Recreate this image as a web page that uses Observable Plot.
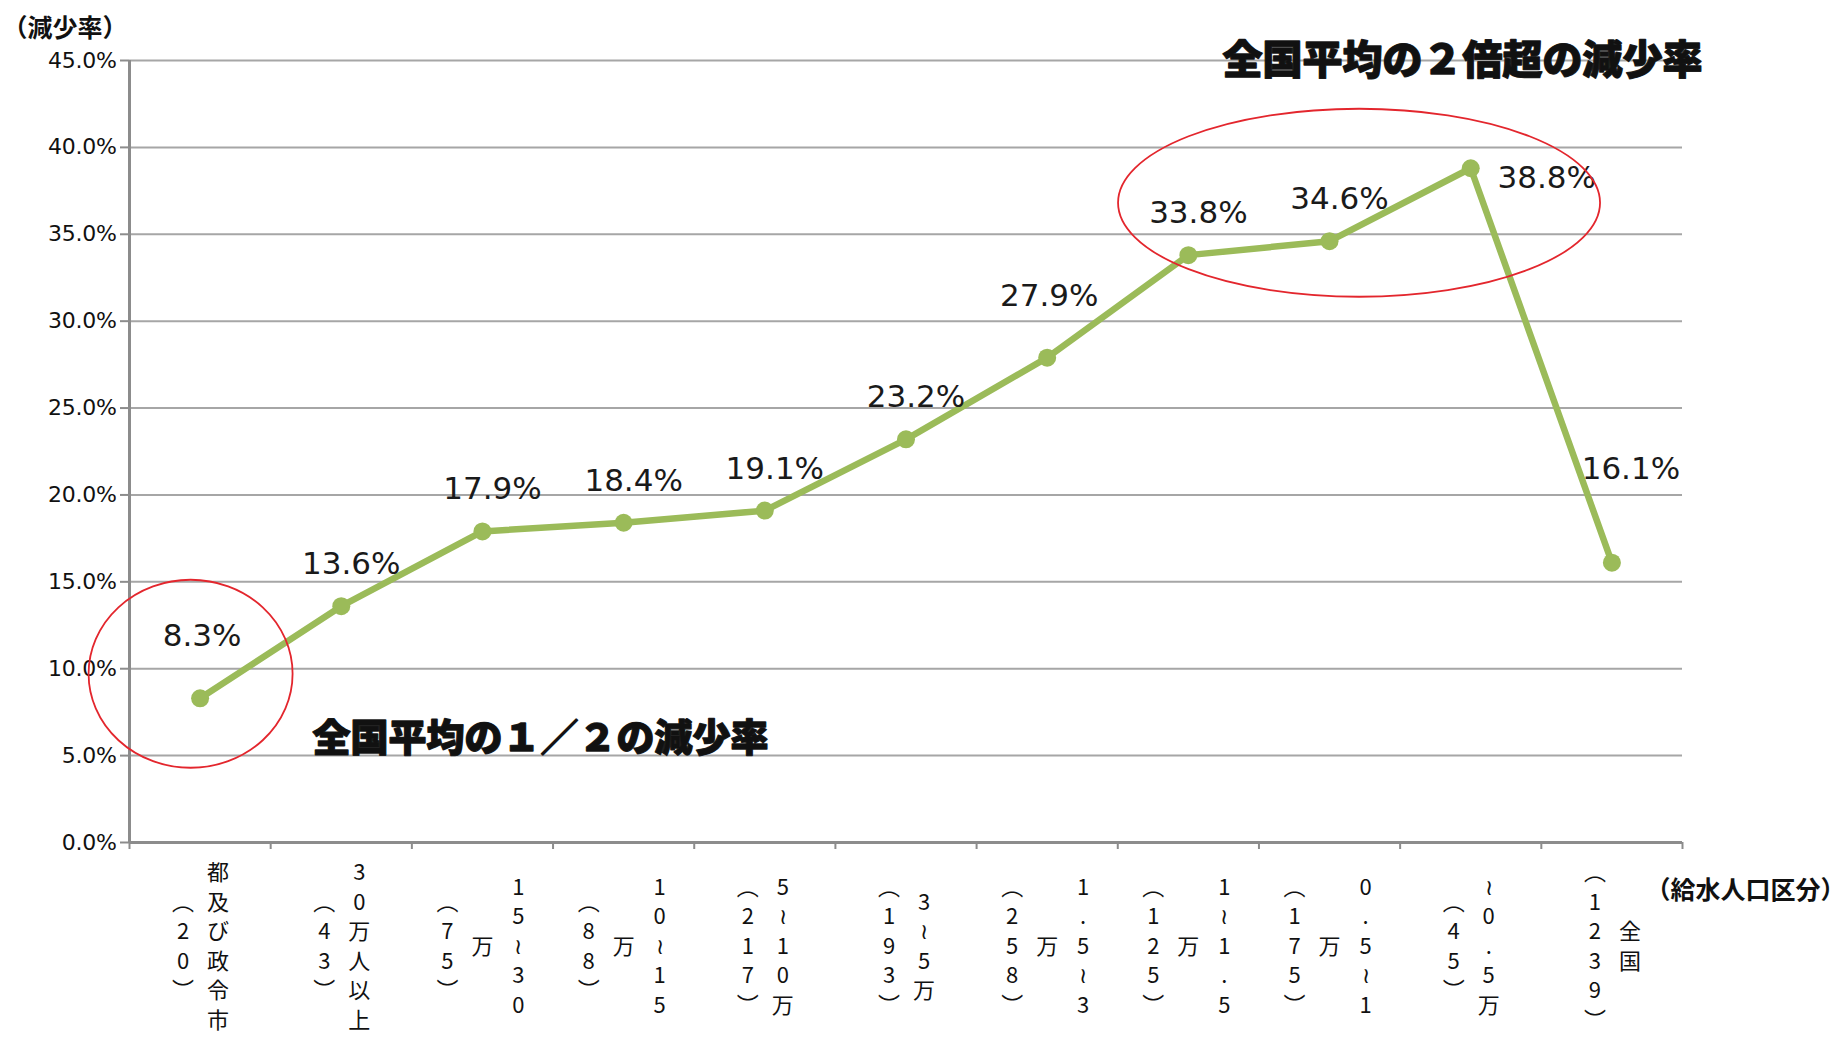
<!DOCTYPE html>
<html>
<head>
<meta charset="utf-8">
<script src="https://cdn.jsdelivr.net/npm/d3@7"></script>
<script src="https://cdn.jsdelivr.net/npm/@observablehq/plot@0.6"></script>
<style>
  html, body { margin: 0; padding: 0; background: #fff; }
  g[aria-label="value-label"] text { letter-spacing: -0.6px; }
  g[aria-label="y-axis tick label"] text { letter-spacing: -0.3px; }
</style>
</head>
<body>
<div id="chart"></div>
<script>
// ---- data ----
const categories = [
  "都及び政令市（20）", "30万人以上（43）", "15～30万（75）", "10～15万（88）",
  "5～10万（217）", "3～5万（193）", "1.5～3万（258）", "1～1.5万（125）",
  "0.5～1万（175）", "～0.5万（45）", "全国（1239）"
];
// tick label columns, left to right (vertical writing)
const categoryColumns = [
  ["︵20︶", "都及び政令市"],
  ["︵43︶", "30万人以上"],
  ["︵75︶", "万", "15≀30"],
  ["︵88︶", "万", "10≀15"],
  ["︵217︶", "5≀10万"],
  ["︵193︶", "3≀5万"],
  ["︵258︶", "万", "1.5≀3"],
  ["︵125︶", "万", "1≀1.5"],
  ["︵175︶", "万", "0.5≀1"],
  ["︵45︶", "≀0.5万"],
  ["︵1239︶", "全国"]
];
const values = [8.3, 13.6, 17.9, 18.4, 19.1, 23.2, 27.9, 33.8, 34.6, 38.8, 16.1];
const yTicks = [0, 5, 10, 15, 20, 25, 30, 35, 40, 45];
const yTitle = "（減少率）";
const xTitle = "（給水人口区分）";
const noteLow = "全国平均の１／２の減少率";
const noteHigh = "全国平均の２倍超の減少率";

// ---- layout / style (not data) ----
const GREEN = "#9bbb59";
const GRID = "#a6a6a6";
const AXIS = "#8c8c8c";
const labelGroups = {
  raised: {idx: [0, 6], dx: 2, dy: -62},
  right: {idx: [9], dx: 76, dy: 10},
  high: {idx: [10], dx: 19, dy: -94},
  normal: {dx: 10, dy: -42}
};
const colOffsets = {2: [-17, 18], 3: [-35, 0, 36]};
const ellipses = [
  {i: 0, dx: -9, dy: -24, rx: 102, ry: 94},
  {i: 8, dx: 30, dy: -38, rx: 241, ry: 94}
];

const n = categories.length;
const rows = values.map((v, i) => ({i, category: categories[i], value: v, label: v.toFixed(1) + "%"}));
const bounds = d3.range(n + 1).map(k => k - 0.5);
const special = new Set([...labelGroups.raised.idx, ...labelGroups.right.idx, ...labelGroups.high.idx]);

const colRows = categoryColumns.flatMap((cols, i) =>
  cols.map((c, j) => ({i, ncol: cols.length, col: j, text: Array.from(c).join("\n")})));

const catTextOpts = {
  x: "i", text: "text", frameAnchor: "bottom", dy: 102, lineAnchor: "middle",
  lineHeight: 1.34, fontSize: 22, fontFamily: "Noto Sans CJK JP", fill: "#111"
};
const catMarks = [];
for (const nc of [2, 3]) {
  colOffsets[nc].forEach((off, j) => {
    catMarks.push(Plot.text(colRows.filter(d => d.ncol === nc && d.col === j), {...catTextOpts, dx: off}));
  });
}

const valueTextOpts = {
  x: "i", y: "value", text: "label", fontSize: 31, fontFamily: "DejaVu Sans",
  fill: "#1a1a1a", ariaLabel: "value-label"
};

const chart = Plot.plot({
  width: 1848,
  height: 1040,
  marginLeft: 129,
  marginRight: 166,
  marginTop: 60,
  marginBottom: 198,
  x: {domain: [-0.5, n - 0.5], axis: null},
  y: {domain: [0, 45], axis: null},
  style: {background: "#fff", fontFamily: "DejaVu Sans"},
  marks: [
    Plot.gridY(yTicks, {stroke: GRID, strokeOpacity: 1, strokeWidth: 2}),
    Plot.axisY(yTicks, {
      label: null, tickFormat: d => d.toFixed(1) + "%", tickSize: 9, tickPadding: 4,
      stroke: AXIS, strokeWidth: 2, fill: "#111", fontSize: 22, fontFamily: "DejaVu Sans"
    }),
    Plot.axisX(bounds, {label: null, tickSize: 7, tickFormat: () => "", stroke: AXIS, strokeWidth: 2}),
    Plot.ruleY([0], {stroke: AXIS, strokeWidth: 3}),
    Plot.ruleX([-0.5], {stroke: AXIS, strokeWidth: 3}),
    Plot.line(rows, {x: "i", y: "value", stroke: GREEN, strokeWidth: 6.5}),
    Plot.dot(rows, {x: "i", y: "value", r: 9, fill: GREEN}),
    Plot.text(rows.filter(d => !special.has(d.i)), {...valueTextOpts, dx: labelGroups.normal.dx, dy: labelGroups.normal.dy}),
    Plot.text(rows.filter(d => labelGroups.raised.idx.includes(d.i)), {...valueTextOpts, dx: labelGroups.raised.dx, dy: labelGroups.raised.dy}),
    Plot.text(rows.filter(d => labelGroups.right.idx.includes(d.i)), {...valueTextOpts, dx: labelGroups.right.dx, dy: labelGroups.right.dy}),
    Plot.text(rows.filter(d => labelGroups.high.idx.includes(d.i)), {...valueTextOpts, dx: labelGroups.high.dx, dy: labelGroups.high.dy}),
    ...catMarks,
    Plot.text([yTitle], {text: d => d, frameAnchor: "top-left", lineAnchor: "middle", dx: -127, dy: -32, textAnchor: "start",
      fontSize: 25, fontWeight: "bold", fontFamily: "Noto Sans CJK JP", fill: "#111"}),
    Plot.text([xTitle], {text: d => d, frameAnchor: "bottom-right", lineAnchor: "middle", dx: -37, dy: 48, textAnchor: "start",
      fontSize: 25, fontWeight: "bold", fontFamily: "Noto Sans CJK JP", fill: "#111"}),
    Plot.text([noteLow], {text: d => d, frameAnchor: "bottom-left", lineAnchor: "middle", dx: 183, dy: -104, textAnchor: "start",
      fontSize: 38, fontWeight: 900, fontFamily: "Noto Sans CJK JP", fill: "#111", stroke: "#222", strokeWidth: 1.4}),
    Plot.text([noteHigh], {text: d => d, frameAnchor: "top-left", lineAnchor: "middle", dx: 1093, dy: 1, textAnchor: "start",
      fontSize: 40, fontWeight: 900, fontFamily: "Noto Sans CJK JP", fill: "#111", stroke: "#222", strokeWidth: 1.4})
  ]
});

// red highlight ellipses, positioned through the plot's own scales
const xs = chart.scale("x"), ys = chart.scale("y");
const fx = d3.scaleLinear(xs.domain, xs.range);
const fy = d3.scaleLinear(ys.domain, ys.range);
d3.select(chart).append("g").attr("aria-label", "highlight")
  .selectAll("ellipse").data(ellipses).join("ellipse")
  .attr("cx", d => fx(d.i) + d.dx)
  .attr("cy", d => fy(values[d.i]) + d.dy)
  .attr("rx", d => d.rx)
  .attr("ry", d => d.ry)
  .attr("fill", "none")
  .attr("stroke", "#e3262d")
  .attr("stroke-width", 1.8);

document.getElementById("chart").appendChild(chart);
</script>
</body>
</html>
